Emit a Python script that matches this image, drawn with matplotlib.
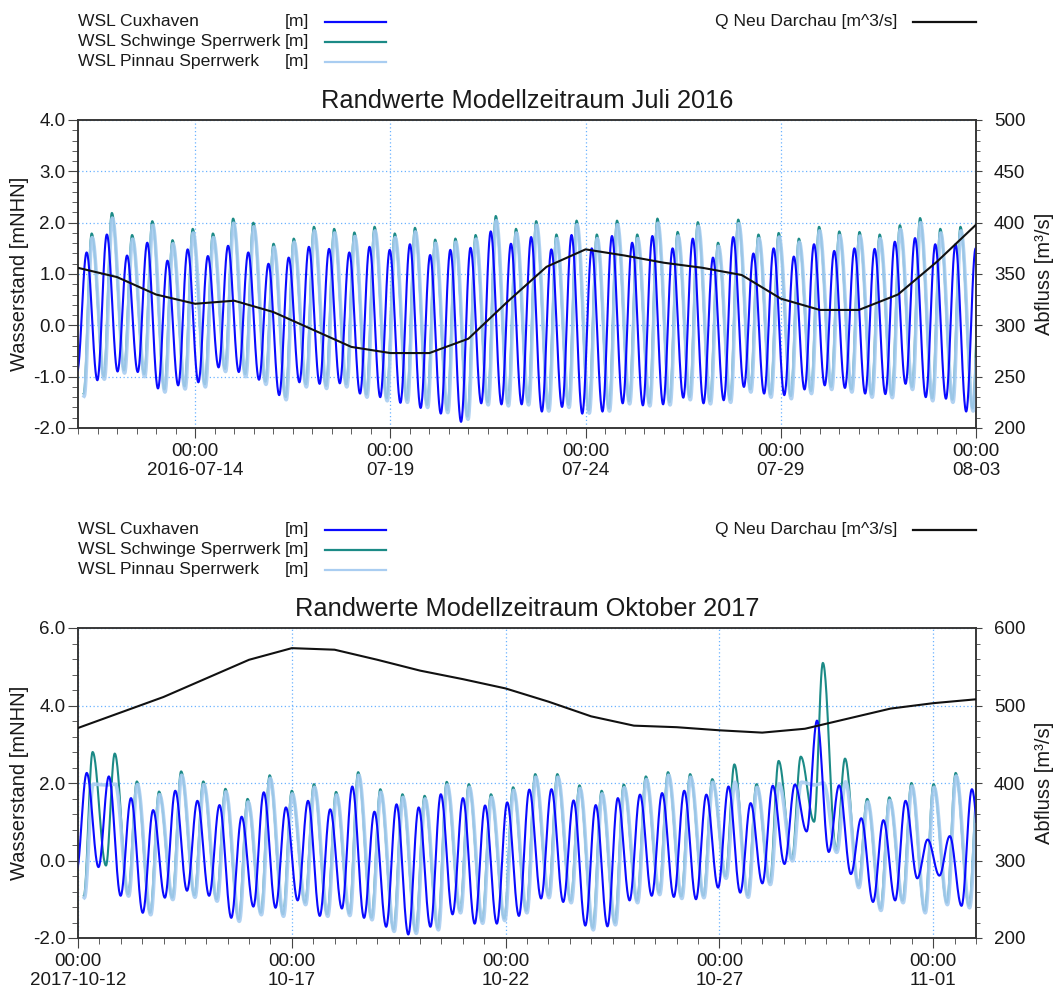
import numpy as np
import pandas as pd
import matplotlib
matplotlib.use('Agg')
import matplotlib.pyplot as plt
import matplotlib.dates as mdates
from matplotlib.lines import Line2D
from matplotlib.ticker import MultipleLocator, FixedLocator, FormatStrFormatter

plt.rcParams['font.family'] = ['Liberation Sans', 'DejaVu Sans']

TIDE = 12.42      # semidiurnal tide period [h]
CUX_FALL = 6.6    # HW -> LW duration at Cuxhaven [h]
UP_FALL = 7.5     # HW -> LW duration at the barriers [h]

# ---------------- Juli 2016 ----------------
jul_start, jul_end = '2016-07-11 00:00', '2016-08-03 00:00'
jul_ticks = ['2016-07-14', '2016-07-19', '2016-07-24', '2016-07-29', '2016-08-03']

jul_cux_first_hw = 5.3
jul_cux_hw = [1.42, 1.77, 1.36, 1.61, 1.26, 1.48, 1.35, 1.55, 1.42, 1.20, 1.32, 1.53, 1.49, 1.42, 1.53, 1.47,
              1.58, 1.37, 1.47, 1.51, 1.83, 1.59, 1.72, 1.48, 1.76, 1.50, 1.74, 1.61, 1.74, 1.50, 1.69,
              1.32, 1.72, 1.40, 1.50, 1.34, 1.58, 1.45, 1.50, 1.49, 1.63, 1.70, 1.58, 1.58, 1.50]
jul_cux_lw = [-0.90, -1.07, -0.90, -0.91, -1.23, -1.17, -1.11, -0.82, -0.91, -1.06, -1.36, -1.11, -1.14, -1.13, -1.33, -1.40,
              -1.51, -1.61, -1.72, -1.88, -1.52, -1.54, -1.54, -1.68, -1.59, -1.72, -1.68, -1.52, -1.56, -1.54, -1.41, -1.52,
              -1.46, -1.20, -1.33, -1.36, -1.25, -1.17, -1.22, -1.33, -1.34, -1.14, -1.40, -1.43, -1.68]

jul_sch_first_hw = 8.4
jul_sch_hw = [1.79, 2.19, 1.76, 2.03, 1.66, 1.88, 1.79, 2.08, 2.00, 1.59, 1.69, 1.92, 1.88, 1.81, 1.92, 1.79,
              1.90, 1.67, 1.69, 1.76, 2.13, 1.88, 2.03, 1.77, 2.04, 1.77, 2.04, 1.77, 2.08, 1.82, 2.01,
              1.61, 2.06, 1.77, 1.80, 1.69, 1.92, 1.83, 1.82, 1.77, 1.95, 2.09, 1.88, 1.92, 1.80]
jul_sch_lw = [-1.33, -1.00, -0.88, -0.95, -1.25, -1.19, -1.15, -0.85, -0.95, -1.10, -1.40, -1.15, -1.18, -1.15, -1.35, -1.42,
              -1.45, -1.55, -1.65, -1.78, -1.50, -1.52, -1.50, -1.62, -1.55, -1.66, -1.62, -1.48, -1.52, -1.50, -1.40, -1.48,
              -1.45, -1.25, -1.35, -1.38, -1.28, -1.20, -1.25, -1.35, -1.36, -1.20, -1.42, -1.45, -1.62]

jul_pin_first_hw = 8.7
jul_pin_hw = [1.71, 2.09, 1.68, 1.95, 1.59, 1.80, 1.71, 1.99, 1.92, 1.52, 1.62, 1.84, 1.80, 1.73, 1.84, 1.71,
              1.82, 1.60, 1.62, 1.68, 2.04, 1.80, 1.95, 1.69, 1.96, 1.69, 1.96, 1.69, 1.99, 1.74, 1.93,
              1.54, 1.98, 1.69, 1.72, 1.62, 1.84, 1.75, 1.74, 1.69, 1.87, 2.00, 1.80, 1.84, 1.72]
jul_pin_lw = [-1.38, -1.05, -0.93, -1.00, -1.30, -1.24, -1.20, -0.90, -1.00, -1.15, -1.45, -1.20, -1.23, -1.20, -1.40, -1.47,
              -1.50, -1.60, -1.70, -1.83, -1.55, -1.57, -1.55, -1.67, -1.60, -1.71, -1.67, -1.53, -1.57, -1.55, -1.45, -1.53,
              -1.50, -1.30, -1.40, -1.43, -1.33, -1.25, -1.30, -1.40, -1.41, -1.25, -1.47, -1.50, -1.67]

# daily discharge Neu Darchau [m^3/s]
jul_q = [356, 347, 330, 321, 324, 313, 296, 279, 273, 273, 287, 323,
         357, 374, 368, 361, 356, 349, 326, 315, 315, 330, 362, 398]

# ---------------- Oktober 2017 ----------------
oct_start, oct_end = '2017-10-12 00:00', '2017-11-02 00:00'
oct_ticks = ['2017-10-12', '2017-10-17', '2017-10-22', '2017-10-27', '2017-11-01']

oct_cux_first_hw = 4.9
oct_cux_hw = [2.26, 2.17, 1.61, 1.30, 1.80, 1.54, 1.43, 1.13, 1.76, 1.37, 1.54, 1.32, 1.91, 1.26, 1.45,
              1.37, 1.71, 1.61, 1.42, 1.50, 1.83, 1.84, 1.55, 1.43, 1.61, 1.70, 1.74, 1.80, 1.70,
              1.91, 1.48, 1.93, 1.96, 3.61, 1.94, 1.09, 1.04, 1.54, 0.54, 0.63, 1.84]
oct_cux_lw = [-0.30, -0.17, -0.91, -1.35, -0.96, -0.78, -0.91, -1.48, -1.19, -1.22, -1.03, -1.43, -1.24, -1.48, -1.71,
              -1.91, -1.71, -1.39, -1.63, -1.63, -1.43, -0.98, -1.07, -1.68, -1.70, -1.03, -0.91, -0.94, -1.00,
              -0.70, -0.83, -0.59, -0.09, 0.75, 0.22, -0.35, -1.07, -1.03, -0.46, -0.39, -1.17, -1.00]

oct_sch_first_hw = 8.2
oct_sch_hw = [2.80, 2.76, 2.04, 1.78, 2.30, 2.04, 1.85, 1.59, 2.20, 1.80, 1.97, 1.77, 2.28, 1.84,
              1.71, 1.67, 2.03, 1.97, 1.71, 1.89, 2.23, 2.23, 1.94, 1.80, 1.96, 2.17, 2.28, 2.23, 2.10,
              2.48, 1.97, 2.57, 2.68, 5.10, 2.63, 1.59, 1.63, 2.00, 1.97, 2.26, 2.00]
oct_sch_lw = [-0.91, -0.13, -0.87, -1.35, -0.96, -0.90, -1.00, -1.52, -1.35, -1.39, -1.09, -1.39, -1.37, -1.48, -1.78,
              -1.83, -1.74, -1.30, -1.57, -1.50, -1.30, -0.91, -1.04, -1.74, -1.61, -1.04, -0.83, -0.93, -0.91,
              -0.41, -0.90, -0.57, 0.04, 1.00, 0.26, -0.65, -1.24, -1.04, -1.30, -1.09, -1.17]

# Pinnau barrier closed during the surges -> level held near 2 m
oct_pin_first_hw = 8.5
oct_pin_hw = [1.97, 1.97, 1.96, 1.70, 2.20, 1.96, 1.77, 1.51, 2.12, 1.72, 1.89, 1.69, 2.20, 1.76,
              1.63, 1.59, 1.95, 1.89, 1.63, 1.81, 2.15, 2.15, 1.86, 1.72, 1.88, 2.09, 2.20, 2.15, 2.02,
              2.02, 1.89, 1.98, 2.02, 2.00, 2.03, 1.51, 1.55, 1.92, 1.89, 2.18, 1.92]
oct_pin_lw = [-0.96, 1.95, -0.92, -1.40, -1.01, -0.95, -1.05, -1.57, -1.40, -1.44, -1.14, -1.44, -1.42, -1.53, -1.83,
              -1.88, -1.79, -1.35, -1.62, -1.55, -1.35, -0.96, -1.09, -1.79, -1.66, -1.09, -0.88, -0.98, -0.96,
              -0.46, -0.95, -0.62, -0.01, 1.95, 0.21, -0.70, -1.29, -1.09, -1.35, -1.14, -1.22]

oct_q = [471, 491, 511, 535, 559, 574, 572, 559, 545, 534, 522,
         505, 486, 474, 472, 468, 465, 470, 483, 496, 503, 508]

CUX_C, SCH_C, PIN_C, Q_C = '#0a0aff', '#1b8a86', '#a9cdf1', '#111111'
GRID_C = '#6ab2ff'
TXT_C = '#1a1a1a'

W, H = 1055, 991


def fx(x):
    return x / W


def fy(y):
    return 1 - y / H


def tide_curve(start, first_hw, hw, lw, fall, n=30):
    # alternating extremes: lw[k] before hw[k], optional trailing lw
    t_ext, h_ext = [], []
    for k, high in enumerate(hw):
        t_ext += [first_hw + k * TIDE - (TIDE - fall), first_hw + k * TIDE]
        h_ext += [lw[k], high]
    if len(lw) > len(hw):
        t_ext.append(first_hw + (len(hw) - 1) * TIDE + fall)
        h_ext.append(lw[len(hw)])
    t, h = [], []
    s = np.linspace(0, 1, n, endpoint=False)
    for i in range(len(t_ext) - 1):
        t.append(t_ext[i] + s * (t_ext[i + 1] - t_ext[i]))
        h.append(h_ext[i] + (h_ext[i + 1] - h_ext[i]) * (1 - np.cos(np.pi * s)) / 2)
    t.append([t_ext[-1]])
    h.append([h_ext[-1]])
    t = np.concatenate(t)
    h = np.concatenate(h)
    return pd.Timestamp(start) + pd.to_timedelta(t, unit='h'), h


def draw_panel(off, height, title, start, end, ticks, cux, sch, pin, q,
               ylim, ymaj, ymin, qlim, qmaj, qmin):
    top = 120 + off
    ax = fig.add_axes([fx(78), fy(top + height), fx(976) - fx(78), height / H])

    t, h = tide_curve(start, *sch, UP_FALL)
    ax.plot(t, h, color=SCH_C, lw=1.5, zorder=3)
    t, h = tide_curve(start, *pin, UP_FALL)
    ax.plot(t, h, color=PIN_C, lw=2.6, alpha=0.9, zorder=4)
    t, h = tide_curve(start, *cux, CUX_FALL)
    ax.plot(t, h, color=CUX_C, lw=1.5, zorder=5)

    ax.set_xlim(pd.Timestamp(start), pd.Timestamp(end))
    ax.set_ylim(*ylim)
    tick_dates = pd.to_datetime(ticks)
    ax.xaxis.set_major_locator(FixedLocator(mdates.date2num(tick_dates)))
    ax.set_xticklabels(['00:00\n' + d.strftime('%Y-%m-%d' if i == 0 else '%m-%d')
                        for i, d in enumerate(tick_dates)], linespacing=1.15)
    ax.xaxis.set_minor_locator(mdates.HourLocator(interval=12))
    ax.yaxis.set_major_locator(MultipleLocator(ymaj))
    ax.yaxis.set_minor_locator(MultipleLocator(ymin))
    ax.yaxis.set_major_formatter(FormatStrFormatter('%.1f'))
    ax.grid(True, which='major', color=GRID_C, linestyle=(0, (1, 2)), linewidth=0.9)
    ax.set_axisbelow(True)

    ax.tick_params(axis='both', which='both', direction='out', colors='#444444',
                   labelcolor=TXT_C, labelsize=13.5)
    ax.tick_params(axis='y', which='major', length=7, pad=2)
    ax.tick_params(axis='y', which='minor', length=4.5)
    ax.tick_params(axis='x', which='major', length=7, pad=4)
    ax.tick_params(axis='x', which='minor', length=4)

    ax2 = ax.twinx()
    qt = pd.date_range(start, periods=len(q), freq='D')
    ax2.plot(qt, q, color=Q_C, lw=1.5, zorder=6)
    ax2.set_ylim(*qlim)
    ax2.yaxis.set_major_locator(MultipleLocator(qmaj))
    ax2.yaxis.set_minor_locator(MultipleLocator(qmin))
    ax2.tick_params(axis='y', which='both', direction='out', colors='#444444',
                    labelcolor=TXT_C, labelsize=13.5)
    ax2.tick_params(axis='y', which='major', length=4, pad=9)
    ax2.tick_params(axis='y', which='minor', length=3)

    for a in (ax, ax2):
        for sp in a.spines.values():
            sp.set_color('#333333')
            sp.set_linewidth(1.1)

    # legend block above the axes
    rows = [('WSL Cuxhaven', CUX_C), ('WSL Schwinge Sperrwerk', SCH_C),
            ('WSL Pinnau Sperrwerk', PIN_C)]
    for i, (name, c) in enumerate(rows):
        y = 21.7 + off + 20 * i
        fig.text(fx(78), fy(y), name, fontsize=12.6, color=TXT_C, ha='left', va='center')
        fig.text(fx(285), fy(y), '[m]', fontsize=12.6, color=TXT_C, ha='left', va='center')
        fig.add_artist(Line2D([fx(325), fx(386)], [fy(y), fy(y)], color=c, lw=1.6))
    fig.text(fx(715), fy(21.7 + off), 'Q Neu Darchau [m^3/s]', fontsize=12.6,
             color=TXT_C, ha='left', va='center')
    fig.add_artist(Line2D([fx(913), fx(976)], [fy(21.7 + off), fy(21.7 + off)],
                          color=Q_C, lw=1.6))

    fig.text(fx(527), fy(101 + off), title, fontsize=18.3, color=TXT_C, ha='center', va='center')
    mid = top + height / 2
    fig.text(fx(20), fy(mid), 'Wasserstand [mNHN]', fontsize=14.5, color=TXT_C,
             rotation=90, ha='center', va='center')
    fig.text(fx(1044), fy(mid), 'Abfluss [m³/s]', fontsize=14.5, color=TXT_C,
             rotation=90, ha='center', va='center')
    return ax, ax2


fig = plt.figure(figsize=(W / 100, H / 100), dpi=100)

draw_panel(0, 308, 'Randwerte Modellzeitraum Juli 2016', jul_start, jul_end, jul_ticks,
           (jul_cux_first_hw, jul_cux_hw, jul_cux_lw),
           (jul_sch_first_hw, jul_sch_hw, jul_sch_lw),
           (jul_pin_first_hw, jul_pin_hw, jul_pin_lw),
           jul_q, (-2, 4), 1.0, 0.2, (200, 500), 50, 10)

draw_panel(508, 310, 'Randwerte Modellzeitraum Oktober 2017', oct_start, oct_end, oct_ticks,
           (oct_cux_first_hw, oct_cux_hw, oct_cux_lw),
           (oct_sch_first_hw, oct_sch_hw, oct_sch_lw),
           (oct_pin_first_hw, oct_pin_hw, oct_pin_lw),
           oct_q, (-2, 6), 2.0, 0.4, (200, 600), 100, 20)

fig.savefig('out.png', dpi=100)
